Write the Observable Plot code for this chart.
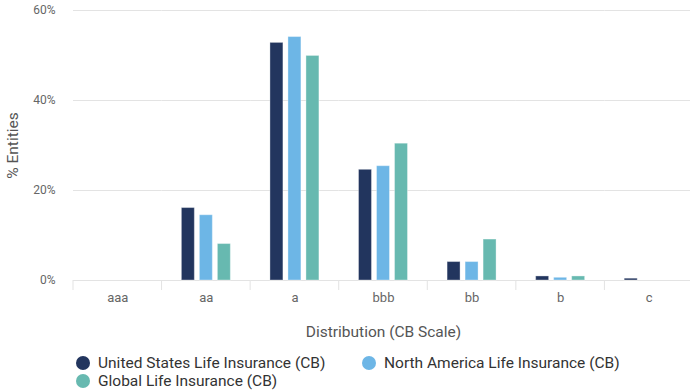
<!DOCTYPE html>
<html>
<head>
<meta charset="utf-8">
<script src="https://cdn.jsdelivr.net/npm/d3@7"></script>
<script src="https://cdn.jsdelivr.net/npm/@observablehq/plot@0.6"></script>
<style>
  html, body { margin: 0; padding: 0; background: #fff; }
  body { width: 690px; height: 392px; overflow: hidden; font-family: Roboto, "Noto Sans", sans-serif; }
  #chart svg { display: block; overflow: visible; }
  .legend { display: grid; grid-template-columns: 286px auto; padding-left: 76px; margin-top: 9px; font-size: 15.5px; color: #333; line-height: 18px; }
  .legend .item { display: flex; align-items: center; white-space: nowrap; }
  .legend .swatch { width: 14px; height: 14px; border-radius: 50%; margin-right: 8px; flex: none; }
</style>
</head>
<body>
<div id="chart"></div>
<div class="legend" id="legend"></div>
<script>
// Rating distribution by credit bucket, three peer groups
const categories = ["aaa", "aa", "a", "bbb", "bb", "b", "c"];
const series = [
  "United States Life Insurance (CB)",
  "North America Life Insurance (CB)",
  "Global Life Insurance (CB)"
];
const usValues = [0, 16.1, 52.8, 24.6, 4.1, 0.9, 0.4];
const naValues = [0, 14.5, 54.1, 25.4, 4.1, 0.6, 0];
const globalValues = [0, 8.1, 49.9, 30.4, 9.1, 0.9, 0];
const colors = ["#22355e", "#6db6e6", "#67b9b0"];
const yTicks = [0, 20, 40, 60];

const valueSets = [usValues, naValues, globalValues];
const rows = series.flatMap((s, i) =>
  categories.map((c, j) => ({category: c, series: s, value: valueSets[i][j]}))
);

const yTitle = "% Entities";
const xTitle = "Distribution (CB Scale)";

const plot = Plot.plot({
  width: 690,
  height: 345,
  marginTop: 10,
  marginLeft: 73,
  marginRight: 0,
  marginBottom: 65,
  style: {fontFamily: "Roboto, sans-serif", color: "#666", background: "#fff"},
  fx: {domain: categories, range: [73, 693], padding: 0, round: false},
  x: {domain: series, paddingInner: 0.28, paddingOuter: 1.1, round: false, axis: null},
  y: {domain: [0, 60], ticks: yTicks},
  color: {domain: series, range: colors},
  marks: [
    Plot.gridY(yTicks, {stroke: "#e3e3e3", strokeOpacity: 1}),
    // tick labels
    Plot.axisY(yTicks, {
      tickSize: 0, tickPadding: 18, tickFormat: d => d + "%",
      label: null, fontSize: 12, fill: "#666"
    }),
    Plot.axisFx({
      anchor: "bottom", tickSize: 0, tickPadding: 12, fontSize: 13, fill: "#666", label: null
    }),
    // axis titles
    Plot.axisY({
      ticks: [], label: yTitle, labelAnchor: "center", labelArrow: "none", labelOffset: 67,
      fontSize: 15.5, fill: "#555"
    }),
    Plot.axisFx({
      anchor: "bottom", ticks: [], label: xTitle, labelAnchor: "center", labelArrow: "none",
      labelOffset: 56, fontSize: 15.5, fill: "#555"
    }),
    Plot.barY(rows, {
      fx: "category", x: "series", y: "value", fill: "series",
      stroke: "#fff", strokeOpacity: 0.35, strokeWidth: 1
    })
  ]
});

// Bucket separators below the baseline, at each band's edges
const fx = plot.scale("fx");
const y = plot.scale("y");
const svg = d3.select(plot);
const edges = categories.map(c => fx.apply(c)).concat([fx.apply(categories.at(-1)) + fx.bandwidth]);
const y0 = y.apply(0);
svg.append("g")
  .attr("stroke", "#e3e3e3")
  .selectAll("line")
  .data(edges)
  .join("line")
  .attr("x1", d => d).attr("x2", d => d)
  .attr("y1", y0).attr("y2", y0 + 10);

document.getElementById("chart").appendChild(plot);

// Legend
const legend = d3.select("#legend");
series.forEach((s, i) => {
  const item = legend.append("div").attr("class", "item");
  item.append("span").attr("class", "swatch").style("background", colors[i]);
  item.append("span").text(s);
});
</script>
</body>
</html>
